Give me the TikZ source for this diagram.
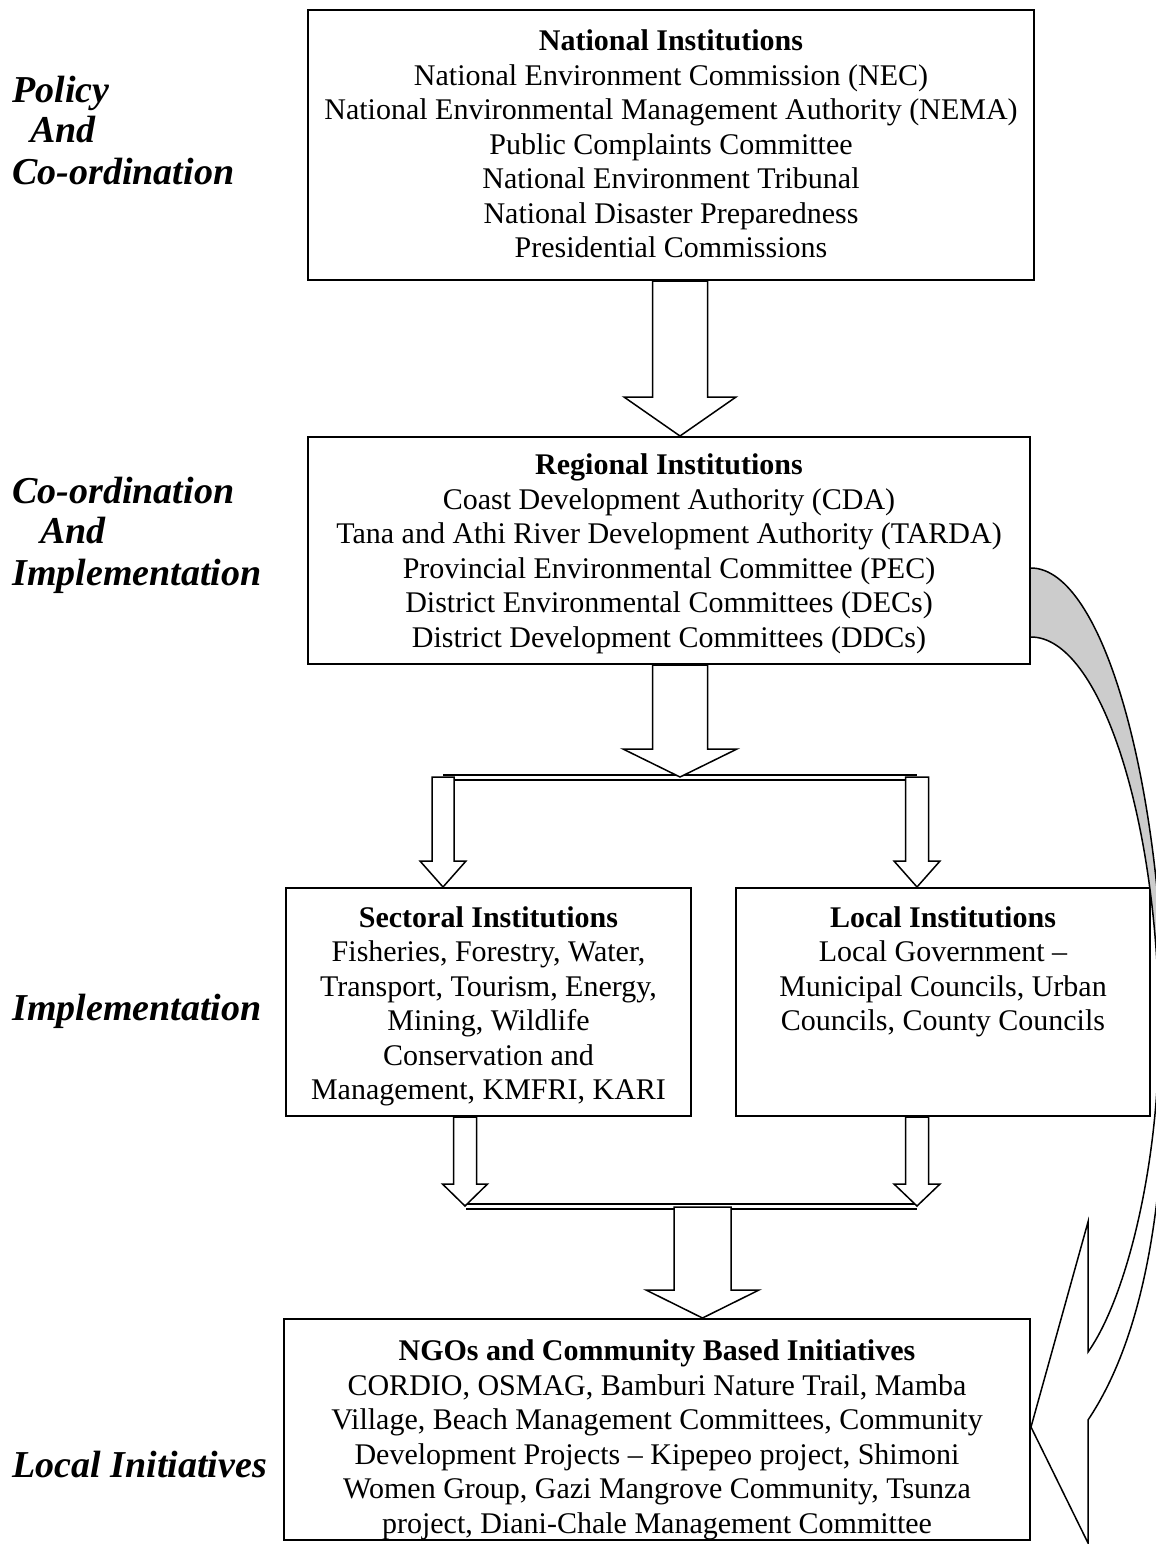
\documentclass[tikz,border=0pt]{standalone}
\usepackage{fontspec}
\setmainfont{Liberation Serif}
\usetikzlibrary{calc}
\newcommand\blockdown[5]{%
  \draw[blk] let \p1=(#1), \p2=(#2) in
   (\x1-#3,\y1) -- (\x1-#3,\y2+#5) -- (\x1-#4,\y2+#5) -- (\x2,\y2) --
   (\x1+#4,\y2+#5) -- (\x1+#3,\y2+#5) -- (\x1+#3,\y1) -- cycle;}
\begin{document}
\begin{tikzpicture}[x=0.5pt,y=-0.5pt,
  box/.style={draw, line width=1pt, inner sep=0pt, align=center,
    font=\fontsize{15pt}{17.25pt}\selectfont},
  boxtext/.style={inner sep=0pt, align=center, font=\fontsize{15pt}{17.25pt}\selectfont},
  lab/.style={inner sep=0pt, font=\fontsize{19pt}{22pt}\selectfont\bfseries\itshape, anchor=base west},
  blk/.style={draw, fill=white, line width=0.75pt, line join=miter},
  bar/.style={line width=1pt}]
\useasboundingbox (0,0) rectangle (1156,1544);

% boxes
\node[box, minimum width=363pt, minimum height=135pt] (nat) at (671,145) {};
\node[boxtext] (nattxt) at (671,144)
  {\textbf{National Institutions}\\
   National Environment Commission (NEC)\\
   National Environmental Management Authority (NEMA)\\
   Public Complaints Committee\\
   National Environment Tribunal\\
   National Disaster Preparedness\\
   Presidential Commissions};
\node[box, minimum width=361pt, minimum height=113.5pt] (reg) at (669,550.5) {};
\node[boxtext] (regtxt) at (669,554)
  {\textbf{Regional Institutions}\\
   Coast Development Authority (CDA)\\
   Tana and Athi River Development Authority (TARDA)\\
   Provincial Environmental Committee (PEC)\\
   District Environmental Committees (DECs)\\
   District Development Committees (DDCs)};
\node[box, minimum width=202.5pt, minimum height=114pt] (sec) at (488.5,1002) {};
\node[box, minimum width=207pt, minimum height=114pt] (loc) at (943,1002) {};
\node[boxtext, anchor=north] (sectxt) at (488.5,906)
  {\textbf{Sectoral Institutions}\\
   Fisheries, Forestry, Water,\\
   Transport, Tourism, Energy,\\
   Mining, Wildlife\\
   Conservation and\\
   Management, KMFRI, KARI};
\node[boxtext, anchor=north] (loctxt) at (943,906)
  {\textbf{Local Institutions}\\
   Local Government --\\
   Municipal Councils, Urban\\
   Councils, County Councils};
\node[box, minimum width=373pt, minimum height=110.5pt] (ngo) at (657,1429.5) {};
\node[boxtext] (ngotxt) at (657,1440)
  {\textbf{NGOs and Community Based Initiatives}\\
   CORDIO, OSMAG, Bamburi Nature Trail, Mamba\\
   Village, Beach Management Committees, Community\\
   Development Projects -- Kipepeo project, Shimoni\\
   Women Group, Gazi Mangrove Community, Tsunza\\
   project, Diani-Chale Management Committee};

% left labels
\node[lab] (l1a) at (12,102) {Policy};
\node[lab] (l1b) at (30,142) {And};
\node[lab] (l1c) at (12,184) {Co-ordination};
\node[lab] (l2a) at (12,503) {Co-ordination};
\node[lab] (l2b) at (40,543) {And};
\node[lab] (l2c) at (12,585) {Implementation};
\node[lab] (l3) at (12,1020) {Implementation};
\node[lab] (l4) at (12,1477) {Local Initiatives};

% junction bars
\coordinate (barL) at (443,777);
\coordinate (barR) at (917,777);
\coordinate (barM) at (680,777);
\draw[bar] ($(barL)+(0,-2)$) -- ($(barR)+(0,-2)$);
\draw[bar] ($(barL)+(11,3)$) -- ($(barR)+(-12,3)$);
\coordinate (bar2L) at (465,1206);
\coordinate (bar2R) at (917,1206);
\coordinate (bar2M) at (702.5,1207);
\draw[bar] ($(bar2L)+(1,-2)$) -- ($(bar2R)+(0,-2)$);
\draw[bar] ($(bar2L)+(1,3)$) -- ($(bar2R)+(0,3)$);

% block arrows
\blockdown{680,0 |- nat.south}{680,0 |- reg.north}{13.75pt}{28pt}{19.5pt}
\blockdown{680,0 |- reg.south}{barM}{13.75pt}{28.5pt}{14pt}
\blockdown{barL}{443,0 |- sec.north}{5.5pt}{11.5pt}{13pt}
\blockdown{barR}{917,0 |- loc.north}{5.75pt}{11.5pt}{13pt}
\blockdown{465,0 |- sec.south}{bar2L}{5.75pt}{11.25pt}{11pt}
\blockdown{917,0 |- loc.south}{bar2R}{5.75pt}{11.5pt}{11pt}
\blockdown{bar2M}{702.5,0 |- ngo.north}{14.25pt}{28.25pt}{14pt}

% curved arrow
\coordinate (co) at (reg.east |- 0,568);
\coordinate (ci) at (reg.east |- 0,637);
\coordinate (tip) at (ngo.east |- 0,1427);
\fill[black!20] (co) .. controls (1103,568) and (1165,785) .. (1165,1050)
  -- (1159,1030) .. controls (1159,820) and (1100,637) .. (ci) -- cycle;
\draw[line width=0.75pt, line join=miter] (co) .. controls (1103,568) and (1165,785) .. (1165,1050)
  .. controls (1165,1200) and (1145,1335) .. (1088,1420) -- (1088,1543) -- (tip)
  -- (1088,1222) -- (1088,1352) .. controls (1125,1300) and (1159,1170) .. (1159,1030)
  .. controls (1159,820) and (1100,637) .. (ci);
\end{tikzpicture}
\end{document}
